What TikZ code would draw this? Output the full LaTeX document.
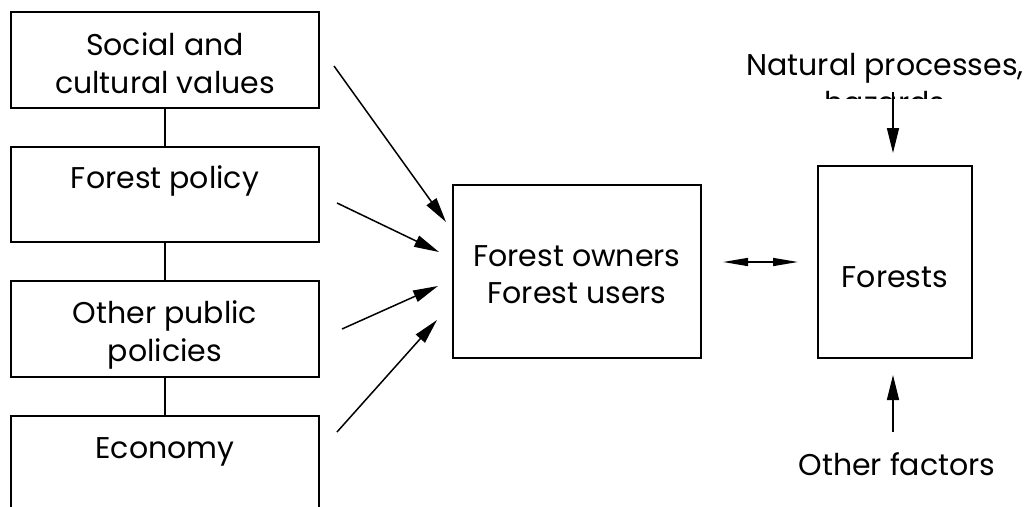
\documentclass[tikz,border=0pt]{standalone}
\usepackage{fontspec}
\setmainfont{Poppins}
\usetikzlibrary{arrows.meta}
\begin{document}
\begin{tikzpicture}[x=1pt,y=-1pt,
  box/.style={draw,line width=1.6pt,minimum width=#1,inner sep=0pt},
  lbl/.style={anchor=base,font=\fontsize{30}{36}\selectfont,inner sep=0pt},
  conn/.style={line width=1.5pt},
  arr/.style={line width=1.5pt,-{Triangle[length=25pt,width=12pt]}},
  darr/.style={line width=1.5pt,{Triangle[length=25pt,width=8pt]}-{Triangle[length=25pt,width=8pt]}}
]
\useasboundingbox (0,0) rectangle (1030,506);
\clip (0,0) rectangle (1030,506);
% left column
\node[box=308pt,minimum height=96pt] (b1) at (165,60) {};
\node[box=308pt,minimum height=95pt] (b2) at (165,194.5) {};
\node[box=308pt,minimum height=96pt] (b3) at (165,329) {};
\node[box=308pt,minimum height=114pt] (b4) at (165,473) {};
\draw[conn] (b1.south) -- (b2.north);
\draw[conn] (b2.south) -- (b3.north);
\draw[conn] (b3.south) -- (b4.north);
\node[lbl] (t1a) at (165,55) {Social and};
\node[lbl] (t1b) at (165,93) {cultural values};
\node[lbl] (t2) at (165,188) {Forest policy};
\node[lbl] (t3a) at (165,323) {Other public};
\node[lbl] (t3b) at (165,361) {policies};
\node[lbl] (t4) at (165,458) {Economy};
% middle
\node[box=248pt,minimum height=173pt] (mid) at (577,271.5) {};
\node[lbl] (m1) at (577,266) {Forest owners};
\node[lbl] (m2) at (577,303) {Forest users};
% forests
\node[box=154pt,minimum height=192pt] (for) at (895,262) {};
\node[lbl] (f1) at (895,287) {Forests};
% arrows into middle
\coordinate (s1) at (334,66);  \coordinate (e1) at (446,222);
\coordinate (s2) at (337,203); \coordinate (e2) at (439,252);
\coordinate (s3) at (342,329); \coordinate (e3) at (438,286);
\coordinate (s4) at (337,432); \coordinate (e4) at (437,320);
\draw[arr] (s1) -- (e1);
\draw[arr] (s2) -- (e2);
\draw[arr] (s3) -- (e3);
\draw[arr] (s4) -- (e4);
% double arrow
\coordinate (d1) at (723,262); \coordinate (d2) at (798,262);
\draw[darr] (d1) -- (d2);
% natural processes
\begin{scope}
\clip (700,0) rectangle (1030,98);
\node[lbl] (n1) at (885,75) {Natural processes,};
\node[lbl] (n2) at (885,113) {hazards};
\end{scope}
\coordinate (na) at (893,92); \coordinate (nb) at (893,153);
\draw[arr] (na) -- (nb);
% other factors
\node[lbl] (o1) at (897,475) {Other factors};
\coordinate (oa) at (893,432); \coordinate (ob) at (893,375);
\draw[arr] (oa) -- (ob);
\end{tikzpicture}
\end{document}
